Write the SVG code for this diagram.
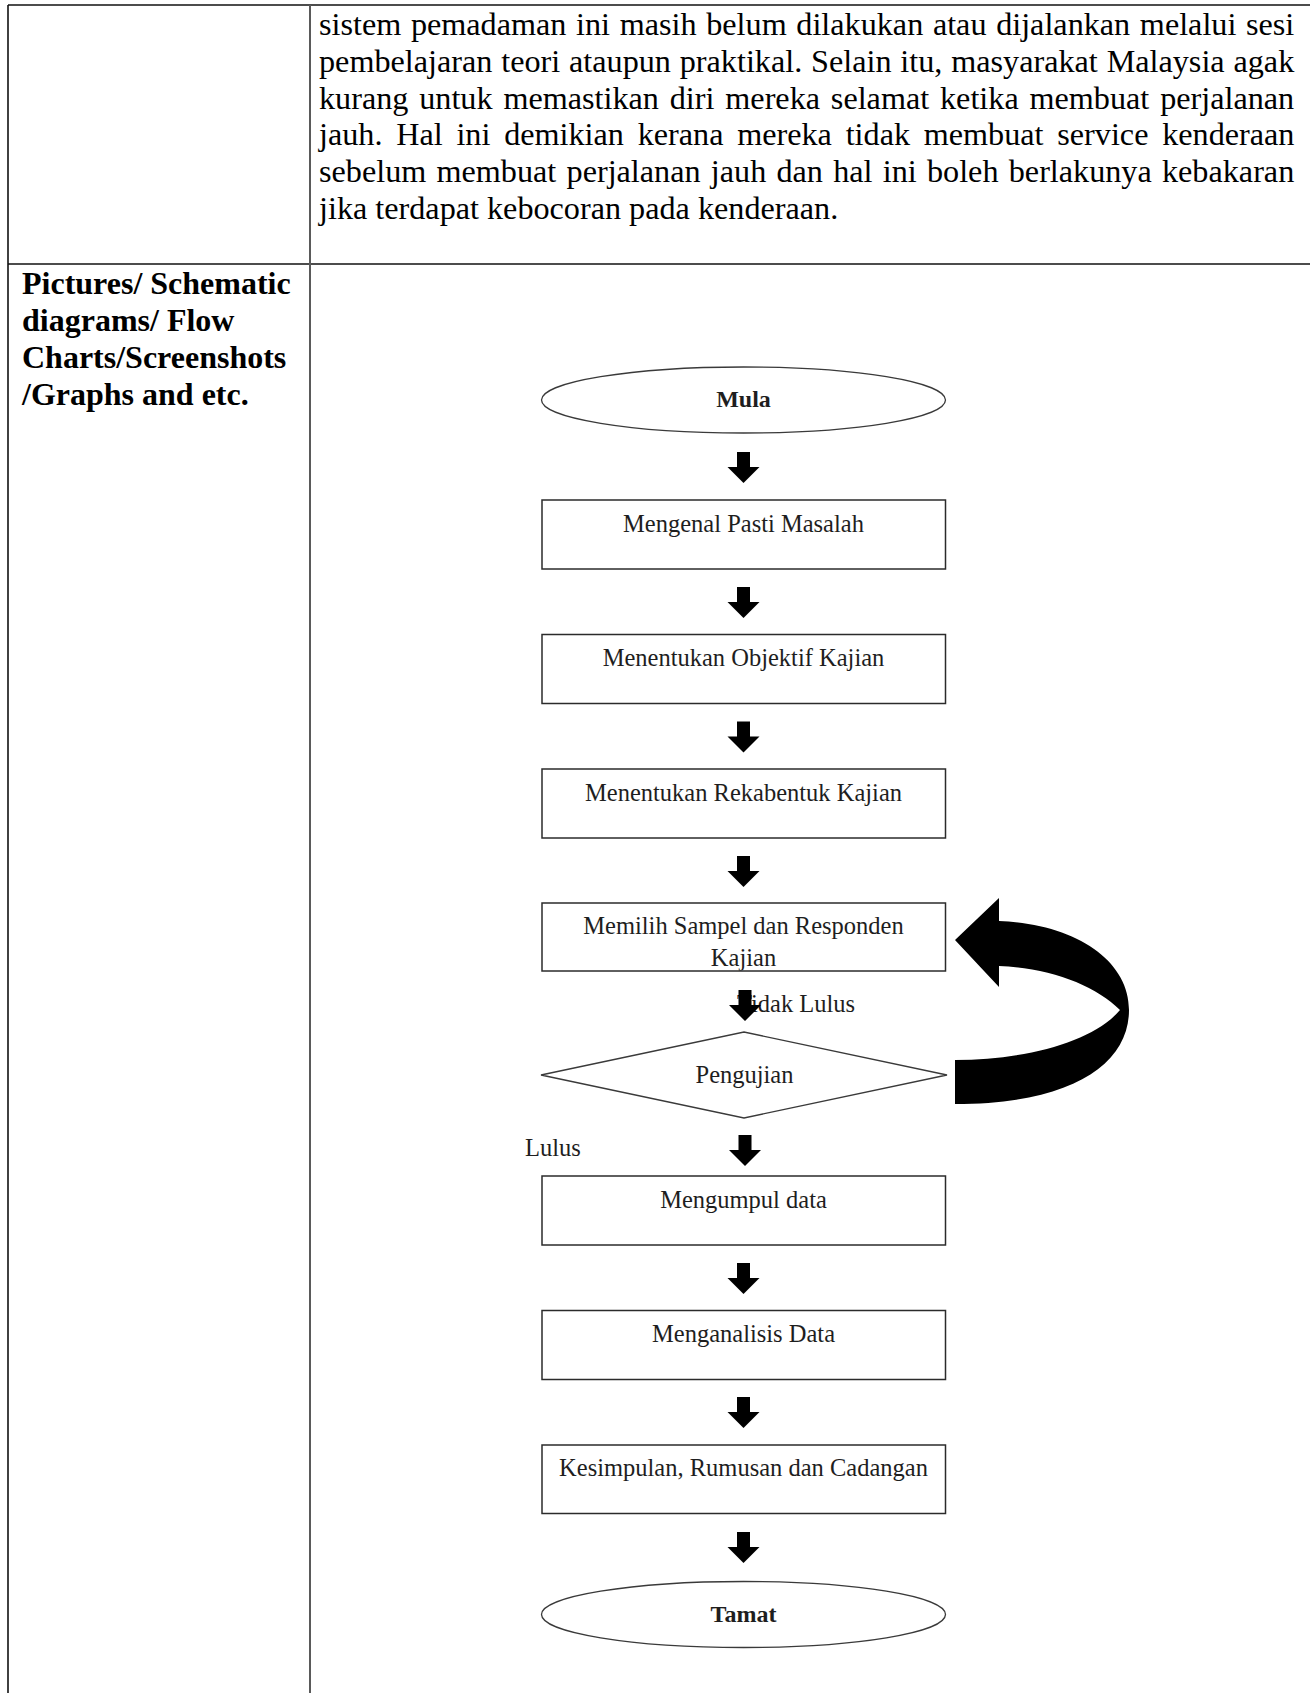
<svg xmlns="http://www.w3.org/2000/svg" width="1310" height="1693" viewBox="0 0 1310 1693">
<style>
.rule{stroke:#111;stroke-width:1.6;fill:none}
.rule2{stroke:#5a5a5a;stroke-width:2;fill:none}
.body{font-family:"Liberation Serif","Times New Roman",serif;font-size:32.2px;fill:#000}
.hdr{font-family:"Liberation Serif","Times New Roman",serif;font-size:32px;font-weight:bold;fill:#000}
.box{fill:#fff;stroke:#2b2b2b;stroke-width:1.5}
.term{fill:#fff;stroke:#3a3a3a;stroke-width:1.3}
.fc{font-family:"Liberation Serif","Times New Roman",serif;font-size:24.5px;fill:#1e1e1e;text-anchor:middle}
.fcb{font-family:"Liberation Serif","Times New Roman",serif;font-size:24px;font-weight:bold;fill:#1e1e1e;text-anchor:middle}
.blk{fill:#000}
</style>
<defs>
<path id="down" d="M-6.5,0 H6.5 V15 H16 L0,31 L-16,15 H-6.5 Z"/>
<clipPath id="clip4"><rect x="542" y="903" width="403" height="67.5"/></clipPath>
</defs>
<rect width="1310" height="1693" fill="#fff"/>

<g id="table">
<line class="rule" x1="8" y1="5" x2="1310" y2="5"/>
<line class="rule" x1="8" y1="264" x2="1310" y2="264"/>
<line class="rule" x1="8" y1="5" x2="8" y2="1693"/>
<line class="rule2" x1="310" y1="5" x2="310" y2="1693"/>
</g>

<g id="paragraph">
<text class="body" x="319" y="35" word-spacing="1.6">sistem pemadaman ini masih belum dilakukan atau dijalankan melalui sesi</text>
<text class="body" x="319" y="71.8" word-spacing="0.8">pembelajaran teori ataupun praktikal. Selain itu, masyarakat Malaysia agak</text>
<text class="body" x="319" y="108.6" word-spacing="2.8">kurang untuk memastikan diri mereka selamat ketika membuat perjalanan</text>
<text class="body" x="319" y="145.4" word-spacing="5.7">jauh. Hal ini demikian kerana mereka tidak membuat service kenderaan</text>
<text class="body" x="319" y="182.2" word-spacing="2.2">sebelum membuat perjalanan jauh dan hal ini boleh berlakunya kebakaran</text>
<text class="body" x="319" y="219">jika terdapat kebocoran pada kenderaan.</text>
</g>

<g id="row-label">
<text class="hdr" x="22" y="294">Pictures/ Schematic</text>
<text class="hdr" x="22" y="331">diagrams/ Flow</text>
<text class="hdr" x="22" y="368">Charts/Screenshots</text>
<text class="hdr" x="22" y="405">/Graphs and etc.</text>
</g>

<g id="connectors">
<text class="fc" x="796" y="1012">Tidak Lulus</text>
<text class="fc" x="553" y="1156">Lulus</text>
<use href="#down" class="blk" x="743.5" y="452"/>
<use href="#down" class="blk" x="743.5" y="587"/>
<use href="#down" class="blk" x="743.5" y="721.5"/>
<use href="#down" class="blk" x="743.5" y="856"/>
<use href="#down" class="blk" x="745" y="990"/>
<use href="#down" class="blk" x="745" y="1135"/>
<use href="#down" class="blk" x="743.5" y="1263"/>
<use href="#down" class="blk" x="743.5" y="1397"/>
<use href="#down" class="blk" x="743.5" y="1532"/>
<path id="loop-back" class="blk" d="M955,940 L999,898 L999,921 C1075,924 1129,960 1129,1010 C1129,1065 1070,1104 955,1104 L955,1060 C1030,1060 1095,1040 1120,1010 C1095,985 1050,968 999,966 L999,987 Z"/>
</g>

<g id="mula">
<ellipse class="term" cx="743.5" cy="400" rx="202" ry="33"/>
<text class="fcb" x="743.5" y="407">Mula</text>
</g>

<g id="mengenal">
<rect class="box" x="542" y="500" width="403.5" height="69"/>
<text class="fc" x="743.5" y="531.5">Mengenal Pasti Masalah</text>
</g>

<g id="objektif">
<rect class="box" x="542" y="634.5" width="403.5" height="69"/>
<text class="fc" x="743.5" y="666">Menentukan Objektif Kajian</text>
</g>

<g id="rekabentuk">
<rect class="box" x="542" y="769" width="403.5" height="69"/>
<text class="fc" x="743.5" y="800.5">Menentukan Rekabentuk Kajian</text>
</g>

<g id="sampel">
<rect class="box" x="542" y="903" width="403.5" height="68"/>
<text class="fc" x="743.5" y="934">Memilih Sampel dan Responden</text>
<text class="fc" x="743.5" y="966" clip-path="url(#clip4)">Kajian</text>
</g>

<g id="pengujian">
<polygon class="term" points="541,1075 744,1032 947,1075 744,1118"/>
<text class="fc" x="744.5" y="1083">Pengujian</text>
</g>

<g id="mengumpul">
<rect class="box" x="542" y="1176" width="403.5" height="69"/>
<text class="fc" x="743.5" y="1207.5">Mengumpul data</text>
</g>

<g id="menganalisis">
<rect class="box" x="542" y="1310.5" width="403.5" height="69"/>
<text class="fc" x="743.5" y="1342">Menganalisis Data</text>
</g>

<g id="kesimpulan">
<rect class="box" x="542" y="1445" width="403.5" height="68.5"/>
<text class="fc" x="743.5" y="1476">Kesimpulan, Rumusan dan Cadangan</text>
</g>

<g id="tamat">
<ellipse class="term" cx="743.5" cy="1614.5" rx="202" ry="33"/>
<text class="fcb" x="743.5" y="1622">Tamat</text>
</g>
</svg>
